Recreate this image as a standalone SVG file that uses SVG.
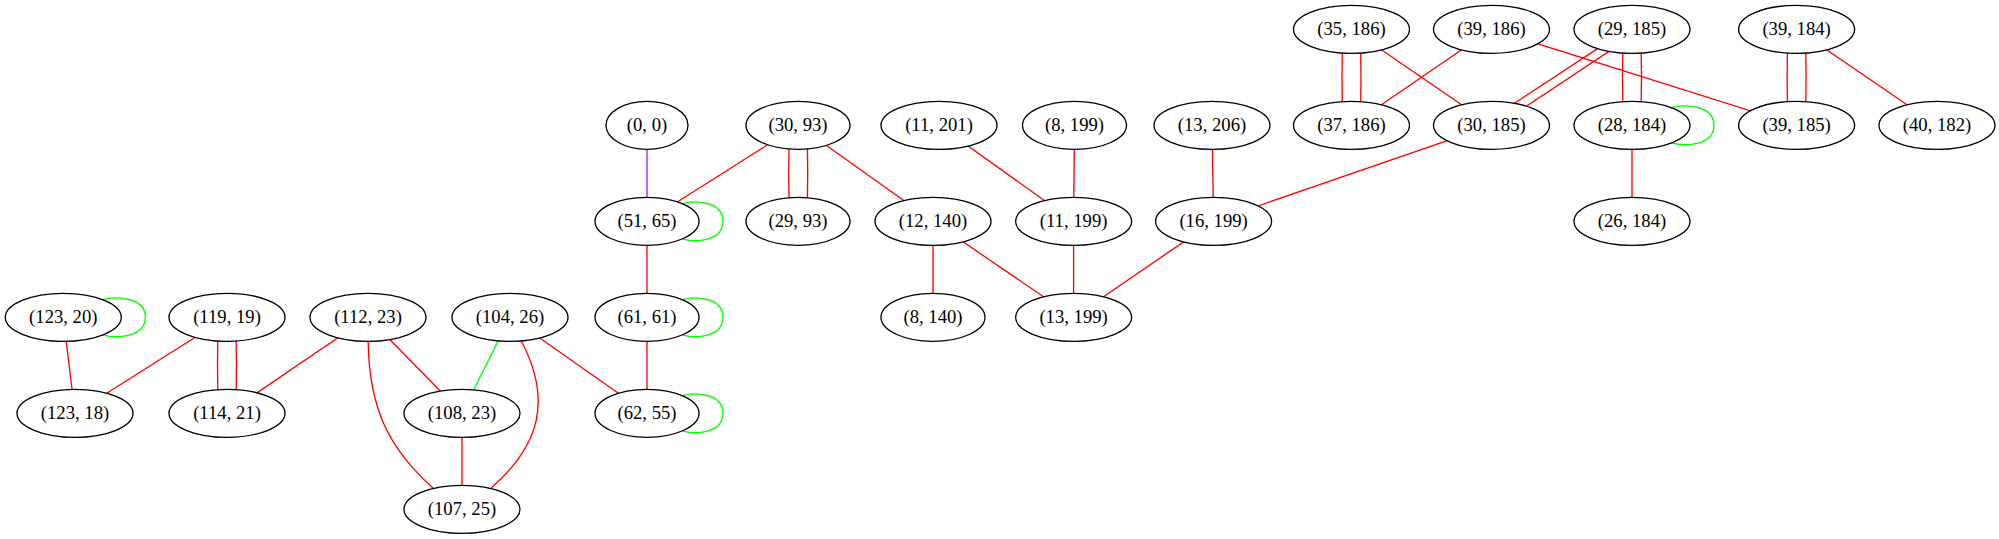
<svg xmlns="http://www.w3.org/2000/svg" width="1999" height="539" viewBox="0 0 1999 539">
<style>
.node ellipse{fill:#ffffff;stroke:#000000;stroke-width:1.33}
.node text{font-family:"Liberation Serif","Times New Roman",serif;font-size:18.67px;text-anchor:middle;fill:#000000}
.e{fill:none;stroke-width:1.33}
.r{stroke:#ff0000}.g{stroke:#00ff00}.p{stroke:#a020f0}
</style>
<rect width="1999" height="539" fill="#ffffff"/>
<g id="edges">
<path class="e p" d="M647,125.3 L647,221.3"/>
<path class="e r" d="M798,125.3 L647,221.3"/>
<path class="e r" d="M789.9,125.3 Q787.5,173.3 789.9,221.3"/>
<path class="e r" d="M806.5,125.3 Q809,173.3 806.5,221.3"/>
<path class="e r" d="M798,125.3 L933,221.3"/>
<path class="e r" d="M647,221.3 L647,317.3"/>
<path class="e r" d="M647,317.3 L647,413.3"/>
<path class="e r" d="M939,125.3 L1073.6,221.3"/>
<path class="e r" d="M1074.5,125.3 L1073.6,221.3"/>
<path class="e r" d="M1212,125.3 L1213.6,221.3"/>
<path class="e r" d="M1491.5,125.3 L1213.6,221.3"/>
<path class="e r" d="M933,221.3 L933,317.3"/>
<path class="e r" d="M933,221.3 L1073.6,317.3"/>
<path class="e r" d="M1073.6,221.3 L1073.6,317.3"/>
<path class="e r" d="M1213.6,221.3 L1073.6,317.3"/>
<path class="e r" d="M1343.2,29.3 Q1340.8,77.3 1343.2,125.3"/>
<path class="e r" d="M1359.8,29.3 Q1362.2,77.3 1359.8,125.3"/>
<path class="e r" d="M1351.5,29.3 L1491.5,125.3"/>
<path class="e r" d="M1491.5,29.3 L1351.5,125.3"/>
<path class="e r" d="M1491.5,29.3 L1796.6,125.3"/>
<path class="e r" d="M1612.7,38.6 L1500,112.8"/>
<path class="e r" d="M1624.8,40.9 L1512.1,115.7"/>
<path class="e r" d="M1623.7,29.3 Q1621.3,77.3 1623.7,125.3"/>
<path class="e r" d="M1640.3,29.3 Q1642.7,77.3 1640.3,125.3"/>
<path class="e r" d="M1632,125.3 L1632,221.3"/>
<path class="e r" d="M1788.3,29.3 Q1785.9,77.3 1788.3,125.3"/>
<path class="e r" d="M1804.9,29.3 Q1807.3,77.3 1804.9,125.3"/>
<path class="e r" d="M1796.6,29.3 L1937,125.3"/>
<path class="e r" d="M63.3,317.3 L75,413.3"/>
<path class="e r" d="M227,317.3 L75,413.3"/>
<path class="e r" d="M218.7,317.3 Q216.3,365.3 218.7,413.3"/>
<path class="e r" d="M235.3,317.3 Q237.7,365.3 235.3,413.3"/>
<path class="e r" d="M368,317.3 L227,413.3"/>
<path class="e r" d="M368,317.3 L462,413.3"/>
<path class="e r" d="M368,317.3 L368.2,341.7 C369,410 390,450 434,489 L440,494.4"/>
<path class="e g" d="M510,317.3 L462,413.3"/>
<path class="e r" d="M515.7,330.2 L521.7,341.7 C552,400 540,445 491.3,488 L484,494.4"/>
<path class="e r" d="M510,317.3 L647,413.3"/>
<path class="e r" d="M462,413.3 L462,509.3"/>
<path class="e g" d="M102.7,299.7 C116,296 145.4,297 145.4,317.3 C145.4,337.6 116,338.6 102.7,334.9"/>
<path class="e g" d="M682.4,203.7 C695,200 723,201 723,221.3 C723,241.6 695,242.6 682.4,238.9"/>
<path class="e g" d="M682.4,299.7 C695,296 723,297 723,317.3 C723,337.6 695,338.6 682.4,334.9"/>
<path class="e g" d="M682.4,395.7 C695,392 723,393 723,413.3 C723,433.6 695,434.6 682.4,430.9"/>
<path class="e g" d="M1671.4,107.7 C1685,104 1714,105 1714,125.3 C1714,145.6 1685,146.6 1671.4,142.9"/>
</g>
<g id="n_35_186" class="node"><ellipse cx="1351.5" cy="29.3" rx="58" ry="24"/><text x="1351.5" y="34.9">(35, 186)</text></g>
<g id="n_39_186" class="node"><ellipse cx="1491.5" cy="29.3" rx="58" ry="24"/><text x="1491.5" y="34.9">(39, 186)</text></g>
<g id="n_29_185" class="node"><ellipse cx="1632" cy="29.3" rx="58" ry="24"/><text x="1632" y="34.9">(29, 185)</text></g>
<g id="n_39_184" class="node"><ellipse cx="1796.6" cy="29.3" rx="58" ry="24"/><text x="1796.6" y="34.9">(39, 184)</text></g>
<g id="n_0_0" class="node"><ellipse cx="647" cy="125.3" rx="41" ry="24"/><text x="647" y="130.9">(0, 0)</text></g>
<g id="n_30_93" class="node"><ellipse cx="798" cy="125.3" rx="52" ry="24"/><text x="798" y="130.9">(30, 93)</text></g>
<g id="n_11_201" class="node"><ellipse cx="939" cy="125.3" rx="58" ry="24"/><text x="939" y="130.9">(11, 201)</text></g>
<g id="n_8_199" class="node"><ellipse cx="1074.5" cy="125.3" rx="52" ry="24"/><text x="1074.5" y="130.9">(8, 199)</text></g>
<g id="n_13_206" class="node"><ellipse cx="1212" cy="125.3" rx="58" ry="24"/><text x="1212" y="130.9">(13, 206)</text></g>
<g id="n_37_186" class="node"><ellipse cx="1351.5" cy="125.3" rx="58" ry="24"/><text x="1351.5" y="130.9">(37, 186)</text></g>
<g id="n_30_185" class="node"><ellipse cx="1491.5" cy="125.3" rx="58" ry="24"/><text x="1491.5" y="130.9">(30, 185)</text></g>
<g id="n_28_184" class="node"><ellipse cx="1632" cy="125.3" rx="58" ry="24"/><text x="1632" y="130.9">(28, 184)</text></g>
<g id="n_39_185" class="node"><ellipse cx="1796.6" cy="125.3" rx="58" ry="24"/><text x="1796.6" y="130.9">(39, 185)</text></g>
<g id="n_40_182" class="node"><ellipse cx="1937" cy="125.3" rx="58" ry="24"/><text x="1937" y="130.9">(40, 182)</text></g>
<g id="n_51_65" class="node"><ellipse cx="647" cy="221.3" rx="52" ry="24"/><text x="647" y="226.9">(51, 65)</text></g>
<g id="n_29_93" class="node"><ellipse cx="798" cy="221.3" rx="52" ry="24"/><text x="798" y="226.9">(29, 93)</text></g>
<g id="n_12_140" class="node"><ellipse cx="933" cy="221.3" rx="58" ry="24"/><text x="933" y="226.9">(12, 140)</text></g>
<g id="n_11_199" class="node"><ellipse cx="1073.6" cy="221.3" rx="58" ry="24"/><text x="1073.6" y="226.9">(11, 199)</text></g>
<g id="n_16_199" class="node"><ellipse cx="1213.6" cy="221.3" rx="58" ry="24"/><text x="1213.6" y="226.9">(16, 199)</text></g>
<g id="n_26_184" class="node"><ellipse cx="1632" cy="221.3" rx="58" ry="24"/><text x="1632" y="226.9">(26, 184)</text></g>
<g id="n_123_20" class="node"><ellipse cx="63.3" cy="317.3" rx="58" ry="24"/><text x="63.3" y="322.9">(123, 20)</text></g>
<g id="n_119_19" class="node"><ellipse cx="227" cy="317.3" rx="58" ry="24"/><text x="227" y="322.9">(119, 19)</text></g>
<g id="n_112_23" class="node"><ellipse cx="368" cy="317.3" rx="58" ry="24"/><text x="368" y="322.9">(112, 23)</text></g>
<g id="n_104_26" class="node"><ellipse cx="510" cy="317.3" rx="58" ry="24"/><text x="510" y="322.9">(104, 26)</text></g>
<g id="n_61_61" class="node"><ellipse cx="647" cy="317.3" rx="52" ry="24"/><text x="647" y="322.9">(61, 61)</text></g>
<g id="n_8_140" class="node"><ellipse cx="933" cy="317.3" rx="52" ry="24"/><text x="933" y="322.9">(8, 140)</text></g>
<g id="n_13_199" class="node"><ellipse cx="1073.6" cy="317.3" rx="58" ry="24"/><text x="1073.6" y="322.9">(13, 199)</text></g>
<g id="n_123_18" class="node"><ellipse cx="75" cy="413.3" rx="58" ry="24"/><text x="75" y="418.9">(123, 18)</text></g>
<g id="n_114_21" class="node"><ellipse cx="227" cy="413.3" rx="58" ry="24"/><text x="227" y="418.9">(114, 21)</text></g>
<g id="n_108_23" class="node"><ellipse cx="462" cy="413.3" rx="58" ry="24"/><text x="462" y="418.9">(108, 23)</text></g>
<g id="n_62_55" class="node"><ellipse cx="647" cy="413.3" rx="52" ry="24"/><text x="647" y="418.9">(62, 55)</text></g>
<g id="n_107_25" class="node"><ellipse cx="462" cy="509.3" rx="58" ry="24"/><text x="462" y="514.9">(107, 25)</text></g>
</svg>
